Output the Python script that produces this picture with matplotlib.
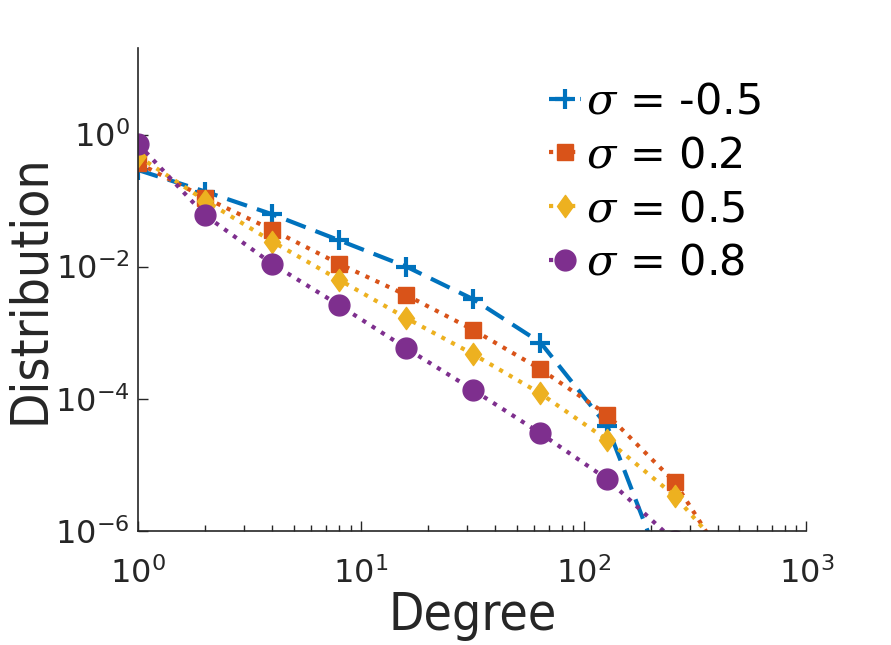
import matplotlib
matplotlib.use("Agg")
import matplotlib.pyplot as plt
import numpy as np
from matplotlib.ticker import LogLocator, NullLocator, NullFormatter
from matplotlib.path import Path

degree = [1, 2, 4, 8, 16, 32, 64, 128, 256, 512]
labels = [r"$\sigma$ = -0.5", r"$\sigma$ = 0.2", r"$\sigma$ = 0.5", r"$\sigma$ = 0.8"]
dist_m05 = [0.29, 0.137, 0.062, 0.025, 0.0100, 0.0032, 0.00071, 3.8e-5, 8.7e-8, 1e-10]
dist_02 = [0.37, 0.11, 0.036, 0.011, 0.0037, 0.0011, 0.00028, 5.7e-5, 5.5e-6, 1.4e-7]
dist_05 = [0.47, 0.10, 0.024, 0.0063, 0.00166, 0.00047, 0.00012, 2.36e-5, 3.4e-6, 2.4e-7]
dist_08 = [0.72, 0.06, 0.011, 0.0026, 0.00058, 0.000135, 3.0e-5, 6.0e-6, 7e-7, 1e-8]

colors = ["#0072BD", "#D95319", "#EDB120", "#7E2F8E"]
diamond = Path([(0, 1), (0.72, 0), (0, -1), (-0.72, 0), (0, 1)],
               [Path.MOVETO, Path.LINETO, Path.LINETO, Path.LINETO, Path.CLOSEPOLY])
markers = ["+", "s", diamond, "o"]
msizes = [14, 12, 16, 15]

plt.rcParams['font.family'] = ['DejaVu Sans']
plt.rcParams['mathtext.fontset'] = 'dejavuserif'

fig = plt.figure(figsize=(8.91, 6.45), dpi=100)
ax = fig.add_axes([0.155, 0.177, 0.75, 0.749])

series = [dist_m05, dist_02, dist_05, dist_08]
for i, (ys, c, m, ms, lab) in enumerate(zip(series, colors, markers, msizes, labels)):
    line, = ax.plot(degree, ys, color=c, marker=m, markersize=ms,
                    markeredgewidth=3 if i == 0 else 1, markerfacecolor=c,
                    markeredgecolor=c, linewidth=3, label=lab)
    if i == 0:
        line.set_dashes([5, 2.5])
    else:
        line.set_linestyle(':')

ax.set_xscale('log')
ax.set_yscale('log')
ax.set_xlim(1, 1000)
ax.set_ylim(1e-6, 20.6)
ax.set_yticks([1e-6, 1e-4, 1e-2, 1e0])
ax.yaxis.set_minor_locator(NullLocator())
ax.xaxis.set_minor_locator(LogLocator(base=10, subs=np.arange(2, 10)))
ax.xaxis.set_minor_formatter(NullFormatter())

for s in ['top', 'right']:
    ax.spines[s].set_visible(False)
for s in ['left', 'bottom']:
    ax.spines[s].set_color('#262626')
    ax.spines[s].set_linewidth(1.2)
ax.tick_params(which='major', direction='in', length=7, width=1, labelsize=23, colors='#262626')
ax.tick_params(which='minor', direction='in', length=4, width=1, colors='#262626')
ax.tick_params(axis='x', pad=19)
ax.tick_params(axis='y', pad=6)

ax.set_xlabel("Degree", fontsize=37, color='#262626', labelpad=1, fontstretch='condensed')
ax.set_ylabel("Distribution", fontsize=37, color='#262626', fontstretch='condensed')
ax.yaxis.set_label_coords(-0.124, 0.5)

leg = ax.legend(loc='upper right', frameon=False, fontsize=31, handlelength=0.75,
                handletextpad=0.1, labelspacing=0.27, borderaxespad=0.0,
                bbox_to_anchor=(0.957, 0.967))

fig.savefig("out.png", dpi=100)
